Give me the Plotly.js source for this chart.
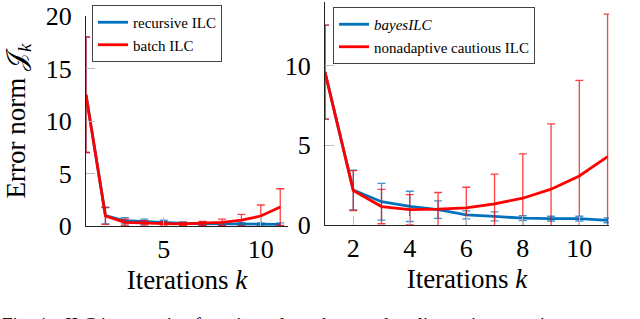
<!DOCTYPE html>
<html>
<head>
<meta charset="utf-8">
<script src="https://cdn.plot.ly/plotly-3.0.1.min.js"></script>
<style>html,body{margin:0;padding:0;background:#fff;}#chart{width:640px;height:319px;}</style>
</head>
<body>
<div id="chart"></div>
<script>
const iterations = [1, 2, 3, 4, 5, 6, 7, 8, 9, 10, 11];

// Left panel
const recursiveILC = [12.5, 1.0, 0.5, 0.4, 0.35, 0.25, 0.22, 0.2, 0.2, 0.15, 0.15];
const recursiveErr = [5.5, 0.8, 0.3, 0.25, 0.2, 0.15, 0.15, 0.15, 0.15, 0.15, 0.15];
const batchILC = [12.5, 0.95, 0.35, 0.25, 0.22, 0.2, 0.25, 0.35, 0.55, 0.95, 1.8];
const batchErr = [5.5, 0.8, 0.3, 0.25, 0.2, 0.15, 0.2, 0.3, 0.55, 1.05, 1.75];

// Right panel
const bayesILC = [9.6, 2.2, 1.46, 1.17, 0.96, 0.64, 0.54, 0.43, 0.4, 0.4, 0.29];
const bayesErr = [2.95, 1.25, 1.15, 0.95, 0.55, 0.25, 0.28, 0.15, 0.15, 0.15, 0.15];
const cautiousILC = [9.6, 2.16, 1.16, 0.96, 1.0, 1.08, 1.33, 1.68, 2.25, 3.08, 4.29];
const cautiousErr = [2.95, 1.25, 1.08, 0.95, 1.04, 1.29, 1.87, 2.78, 4.1, 6.0, 8.95];

const leftXTicks = [5, 10];
const rightXTicks = [2, 4, 6, 8, 10];
const leftYTicks = [0, 5, 10, 15, 20];
const rightYTicks = [0, 5, 10];

const BLUE = 'rgb(0,114,189)';
const RED = 'rgb(255,0,0)';
const FONT = 'Liberation Serif';

function tr(y, err, name, color, xa, ya, legend) {
  return {
    x: iterations, y: y, name: name, type: 'scatter', mode: 'lines',
    xaxis: xa, yaxis: ya, legend: legend,
    line: {color: color, width: 2.8},
    error_y: {type: 'data', array: err, visible: true,
      color: color === RED ? 'rgba(255,0,0,0.75)' : 'rgba(0,114,189,0.75)',
      thickness: 1.3, width: 4}
  };
}

const data = [
  tr(recursiveILC, recursiveErr, 'recursive ILC', BLUE, 'x', 'y', 'legend'),
  tr(batchILC, batchErr, 'batch ILC', RED, 'x', 'y', 'legend'),
  tr(bayesILC, bayesErr, '<i>bayesILC</i>', BLUE, 'x2', 'y2', 'legend2'),
  tr(cautiousILC, cautiousErr, 'nonadaptive cautious ILC', RED, 'x2', 'y2', 'legend2')
];

const axCommon = {
  showgrid: false, zeroline: false, showline: true, linecolor: '#222', linewidth: 1,
  ticks: 'inside', ticklen: 9, tickcolor: '#bbb', tickwidth: 1,
  tickfont: {family: FONT, size: 26, color: '#000'}, mirror: false
};

const layout = {
  width: 640, height: 319,
  margin: {l: 0, r: 0, t: 0, b: 0},
  paper_bgcolor: '#fff', plot_bgcolor: 'rgba(0,0,0,0)',
  font: {family: FONT, color: '#000'},
  showlegend: true,
  xaxis: Object.assign({}, axCommon, {
    domain: [86/640, 288/640], range: [1, 11.4], tickvals: leftXTicks,
    anchor: 'y', ticklabelstandoff: 0,
    title: {text: 'Iterations <i>k</i>', font: {family: FONT, size: 27}, standoff: 6}
  }),
  yaxis: Object.assign({}, axCommon, {
    domain: [1 - 226/319, 1 - 16/319], range: [0, 20], tickvals: leftYTicks,
    anchor: 'x', ticklabelstandoff: 8,
    title: {text: 'Error norm 𝒥<sub><i>k</i></sub>', font: {family: FONT, size: 27}, standoff: 12}
  }),
  xaxis2: Object.assign({}, axCommon, {
    domain: [325/640, 609/640], range: [1, 11.05], tickvals: rightXTicks,
    anchor: 'y2', ticklabelstandoff: 0,
    title: {text: 'Iterations <i>k</i>', font: {family: FONT, size: 27}, standoff: 6}
  }),
  yaxis2: Object.assign({}, axCommon, {
    domain: [1 - 225/319, 1 - 2/319], range: [0, 14], tickvals: rightYTicks,
    anchor: 'x2', ticklabelstandoff: 8
  }),
  legend: {
    x: 92/640, y: 1 - 5/319, xanchor: 'left', yanchor: 'top',
    bgcolor: '#fff', bordercolor: '#444', borderwidth: 1,
    font: {family: FONT, size: 15, color: '#000'}, tracegroupgap: 0
  },
  legend2: {
    x: 333/640, y: 1 - 7/319, xanchor: 'left', yanchor: 'top',
    bgcolor: '#fff', bordercolor: '#444', borderwidth: 1,
    font: {family: FONT, size: 15, color: '#000'}, tracegroupgap: 0
  },
  annotations: [{
    xref: 'paper', yref: 'paper', x: 0, y: 1 - 312/319, xanchor: 'left', yanchor: 'top',
    showarrow: false, align: 'left',
    text: 'Fig. 4.   ILC in recursive form is evaluated on random linear time-varying systems',
    font: {family: FONT, size: 19, color: '#000'}
  }]
};

Plotly.newPlot('chart', data, layout, {staticPlot: true, displayModeBar: false});
</script>
</body>
</html>
